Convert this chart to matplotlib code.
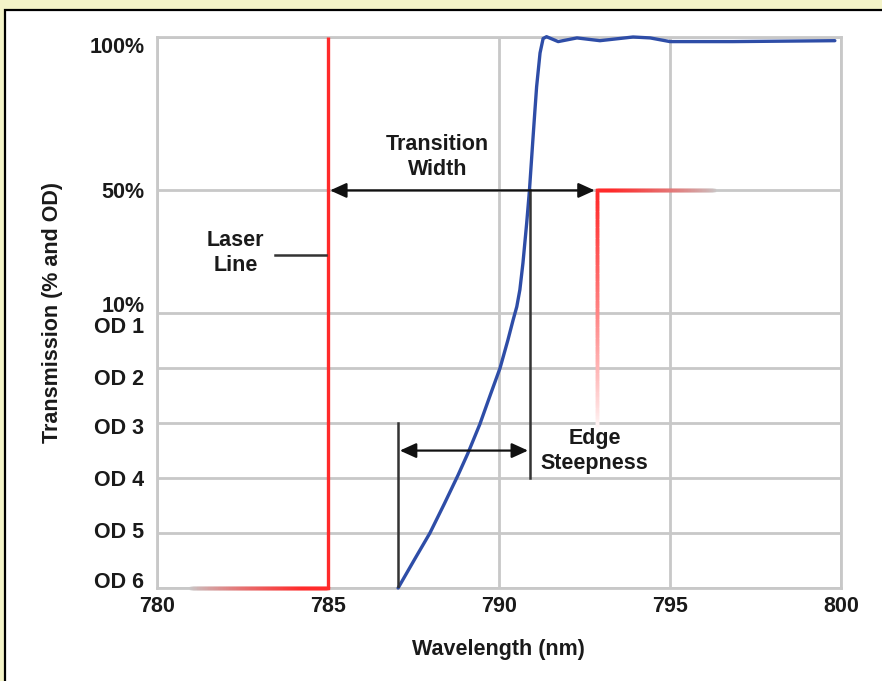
import numpy as np
import matplotlib
matplotlib.use("Agg")
import matplotlib.pyplot as plt
import matplotlib.transforms as mtransforms
from matplotlib.collections import LineCollection
from matplotlib.patches import Rectangle
from matplotlib.colors import to_rgb

plt.rcParams['font.family'] = ['Liberation Sans', 'DejaVu Sans']
plt.rcParams['font.weight'] = 'bold'

# ---------------- data ----------------
# steep blocking part of the edge, given in optical density
wl_od = [787.05, 787.54, 787.98, 788.40, 788.80, 789.09, 789.44, 789.75, 790.03, 790.26, 790.41]
od_vals = [6.0, 5.47, 5.0, 4.47, 3.95, 3.55, 3.02, 2.48, 2.0, 1.49, 1.13]
# transmitting part of the edge, given in percent
wl_pct = [790.52, 790.61, 790.70, 790.81, 790.89, 790.99, 791.05, 791.10, 791.20,
          791.29, 791.39, 791.73, 792.28, 792.95, 793.92, 794.42, 795.00, 796.84, 799.82]
pct_vals = [12.1, 17.6, 26.3, 39.4, 50.0, 66.4, 76.0, 83.8, 94.8,
            99.5, 100.1, 98.5, 99.7, 98.8, 100.0, 99.7, 98.5, 98.5, 98.8]

x_ticks = [780, 785, 790, 795, 800]
y_tick_T = [100, 50, 10, 1, 0.1, 0.01, 0.001, 0.0001]
y_tick_labels = ['100%', '50%', '10%\nOD 1', 'OD 2', 'OD 3', 'OD 4', 'OD 5', 'OD 6']
# small vertical nudges of the y tick labels (pixels, positive = down)
y_label_nudge = [8, 0, 1, 9, 3, 0, -3, -8]

laser_wl = 785.0
edge_start_wl = 787.05
edge_50_wl = 790.91
blocking_end_wl = 792.87
tw_arrow = (785.06, 792.80)
es_arrow = (787.10, 790.85)

# ---------------- scale ----------------
K = 3.07 / 55.0


def fwd(T):
    T = np.asarray(T, dtype=float)
    Tc = np.clip(T, 1e-12, None)
    return np.where(T >= 10, 5 + (T - 10) * K, 4 + np.log10(Tc))


def inv(p):
    p = np.asarray(p, dtype=float)
    return np.where(p >= 5, 10 + (p - 5) / K, 10 ** (np.minimum(p, 5) - 4))


def od_to_T(od):
    return 100 * 10 ** (-np.asarray(od, dtype=float))


W, H = 882, 681
fig = plt.figure(figsize=(W / 100, H / 100), dpi=100)
fig.patch.set_facecolor('#F4F4C8')
fig.patches.append(Rectangle((5 / W, -0.05), 1.2, (H - 10) / H + 0.05,
                             transform=fig.transFigure, facecolor='white',
                             edgecolor='black', linewidth=1.6, zorder=-10))

ax = fig.add_axes([157 / W, (H - 588) / H, (841 - 157) / W, (588 - 37) / H])
ax.set_facecolor('white')
ax.set_yscale('function', functions=(fwd, inv))
ax.set_xlim(780, 800)
ax.set_ylim(0.0001, 100)

grid_c = '#C8C8C8'
for s in ax.spines.values():
    s.set_color(grid_c)
    s.set_linewidth(2.0)
ax.set_xticks(x_ticks)
ax.set_yticks(y_tick_T)
ax.set_yticklabels(y_tick_labels)
FS = 15.5
ax.tick_params(length=0, labelsize=FS, colors='#1a1a1a')
ax.tick_params(axis='y', pad=9)
ax.tick_params(axis='x', pad=6)
ax.grid(True, color=grid_c, linewidth=2.0, zorder=0)
ax.set_axisbelow(True)
for lab, dy in zip(ax.get_yticklabels(), y_label_nudge):
    lab.set_fontweight('bold')
    lab.set_linespacing(1.0)
    lab.set_transform(lab.get_transform() +
                      mtransforms.ScaledTranslation(0, -dy / 100, fig.dpi_scale_trans))
for lab in ax.get_xticklabels():
    lab.set_fontweight('bold')

ax.set_xlabel('Wavelength (nm)', fontsize=FS, fontweight='bold', color='#1a1a1a')
ax.set_ylabel('Transmission (% and OD)', fontsize=FS, fontweight='bold', color='#1a1a1a')
ax.xaxis.set_label_coords(0.4985, -0.093)
ax.yaxis.set_label_coords(-0.138, 0.5)

# ---------------- curve ----------------
wl = np.concatenate([wl_od, wl_pct])
T = np.concatenate([od_to_T(od_vals), pct_vals])
ax.plot(wl, T, color='#2E4DA7', linewidth=2.4, zorder=5, clip_on=False,
        solid_capstyle='round', solid_joinstyle='round')

red = np.array(to_rgb('#FF2A2A'))


def fade_line(x0, x1, p0, p1, s0, s1, bg, n=150, lw=2.4, gamma=0.8):
    """Red line from (x0,p0) to (x1,p1); intensity ramps over fraction s0..s1."""
    xs = np.linspace(x0, x1, n + 1)
    ps = np.linspace(p0, p1, n + 1)
    ys = inv(ps)
    segs = [[(xs[i], ys[i]), (xs[i + 1], ys[i + 1])] for i in range(n)]
    f = (np.arange(n) + 0.5) / n
    t = np.clip((f - s0) / (s1 - s0), 0, 1) ** gamma
    bgc = np.array(to_rgb(bg))
    cols = [tuple(red * a + bgc * (1 - a)) for a in t]
    lc = LineCollection(segs, colors=cols, linewidths=lw, zorder=4,
                        capstyle='projecting', clip_on=False)
    ax.add_collection(lc)


p_od6 = float(fwd(0.0001))
p_50 = float(fwd(50))
p_od3 = float(fwd(0.1))
# laser line: fading horizontal, then vertical line
fade_line(781.0, laser_wl, p_od6, p_od6, 0.0, 0.82, grid_c)
ax.plot([laser_wl, laser_wl], [0.0001, 100], color=tuple(red),
        linewidth=2.4, zorder=4, clip_on=False, solid_capstyle='butt')
# blocking requirement
fade_line(796.3, blocking_end_wl, p_50, p_50, 0.0, 0.9, grid_c)
fade_line(blocking_end_wl, blocking_end_wl, p_od3 - 0.1, p_50, 0.0, 1.0, 'white')

# ---------------- annotations ----------------
blk = '#333333'
ax.plot([edge_start_wl, edge_start_wl], [0.0001, 0.1], color=blk, lw=1.8, zorder=6)
ax.plot([edge_50_wl, edge_50_wl], [50, 0.01], color=blk, lw=1.8, zorder=6)
ax.plot([783.45, 784.95], [29, 29], color=blk, lw=1.8, zorder=6)

arrow_kw = dict(arrowstyle='<|-|>,head_length=0.55,head_width=0.25', color='#111111',
                lw=1.6, shrinkA=0, shrinkB=0, mutation_scale=18)
ax.annotate('', xy=(tw_arrow[1], 50), xytext=(tw_arrow[0], 50), arrowprops=arrow_kw, zorder=7)
y_es = float(inv(fwd(0.1) - 0.5))
ax.annotate('', xy=(es_arrow[1], y_es), xytext=(es_arrow[0], y_es), arrowprops=arrow_kw, zorder=7)

txt_kw = dict(ha='center', va='center', fontsize=FS, fontweight='bold',
              color='#1a1a1a', linespacing=1.25)
ax.text(782.3, 29.6, 'Laser\nLine', **txt_kw)
ax.text(788.2, 60.9, 'Transition\nWidth', **txt_kw)
ax.text(792.8, y_es, 'Edge\nSteepness', **txt_kw)

fig.savefig('out.png', dpi=100, facecolor=fig.get_facecolor())
